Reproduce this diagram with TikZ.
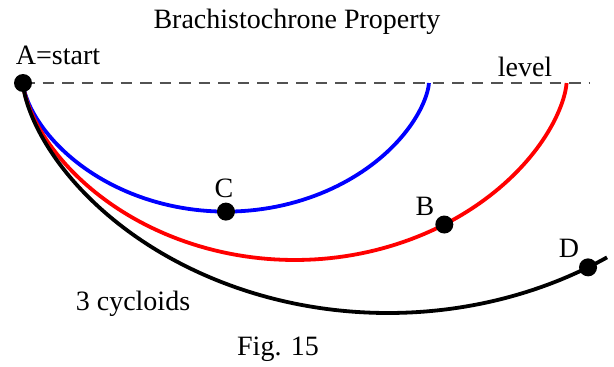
\documentclass[tikz,border=0pt]{standalone}
\usepackage{fontspec}
\setmainfont{Liberation Serif}
\begin{document}
\begin{tikzpicture}[x=1pt,y=-1pt,
  lbl/.style={font=\fontsize{28}{32}\selectfont, anchor=base, inner sep=0pt},
  dot/.style={circle, fill=black, minimum size=18pt, inner sep=0pt},
  curve/.style={line width=3.8pt, line join=round},
  levelline/.style={dash pattern=on 11.5pt off 8pt, line width=2.2pt, black!68}]
\useasboundingbox (0,0) rectangle (614,367);
\coordinate (A0) at (23,83);
\coordinate (L) at (590,83);
% level line
\draw[levelline] (A0) -- (L);
% cycloids
\draw[curve, blue] plot[domain=0:2*pi, samples=120, variable=\t]
  ({23+64.6*(\t - sin(\t r))}, {83+64.3*(1-cos(\t r))});
\draw[curve, red] plot[domain=0:2*pi, samples=140, variable=\t]
  ({23+86.5*(\t - sin(\t r))}, {83+88.5*(1-cos(\t r))});
\draw[curve, black] plot[domain=0:4.17, samples=140, variable=\t]
  ({23+116.2*(\t - sin(\t r))}, {83+115*(1-cos(\t r))});
% dots
\node[dot] (A) at (A0) {};
\node[dot] (C) at ({23+64.6*pi}, {83+64.3*2}) {};
\node[dot] (B) at ({23+86.5*(4.07 - sin(4.07 r))}, {83+88.5*(1-cos(4.07 r))}) {};
\node[dot] (D) at ({23+116.2*(4.065 - sin(4.065 r))}, {83+115*(1-cos(4.065 r))}) {};
% labels
\node[lbl] (title) at (297,28) {Brachistochrone Property};
\node[lbl] (tA) at (58,64) {A=start};
\node[lbl] (tlevel) at (525,76) {level};
\node[lbl] (tC) at (224,197) {C};
\node[lbl] (tB) at (425,215) {B};
\node[lbl] (tD) at (569,257) {D};
\node[lbl] (tcyc) at (133,310) {3 cycloids};
\node[lbl] (tfig) at (278,355) {Fig. 15};
\end{tikzpicture}
\end{document}
